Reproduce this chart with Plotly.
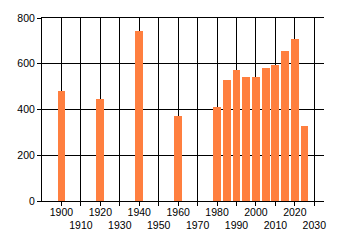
import plotly.graph_objects as go

years = [1900, 1920, 1940, 1960, 1980, 1985, 1990, 1995, 2000, 2005, 2010, 2015, 2020, 2025]
values = [481, 448, 745, 370, 410, 530, 573, 543, 543, 582, 595, 655, 707, 328]

tick_years = list(range(1900, 2031, 10))
tick_text = [str(y) if (y // 10) % 2 == 0 else "<br>" + str(y) for y in tick_years]
y_ticks = [0, 200, 400, 600, 800]

fig = go.Figure()
fig.add_trace(go.Bar(
    x=years, y=values, width=4,
    marker=dict(color="#FF7F3F", line=dict(width=0)),
))

font = dict(family="Liberation Sans, Arial, sans-serif", size=10.5, color="#000000")

fig.update_layout(
    width=340, height=245,
    margin=dict(l=42, r=16, t=15, b=44),
    paper_bgcolor="white", plot_bgcolor="white",
    showlegend=False,
    font=font,
    bargap=0,
)
fig.update_xaxes(
    range=[1890, 2035],
    tickmode="array", tickvals=tick_years, ticktext=tick_text,
    showgrid=True, gridcolor="black", gridwidth=1,
    showline=True, linecolor="black", linewidth=1, mirror=True,
    ticks="outside", ticklen=4, tickcolor="black",
    tickangle=0, zeroline=False, ticklabelstandoff=-3,
    tickfont=font,
)
fig.update_yaxes(
    range=[0, 800],
    tickmode="array", tickvals=y_ticks,
    showgrid=True, gridcolor="black", gridwidth=1,
    showline=True, linecolor="black", linewidth=1,
    ticks="outside", ticklen=4, tickcolor="black",
    zeroline=False,
    tickfont=font,
)

fig.write_html("out.html", config={"displayModeBar": False})
